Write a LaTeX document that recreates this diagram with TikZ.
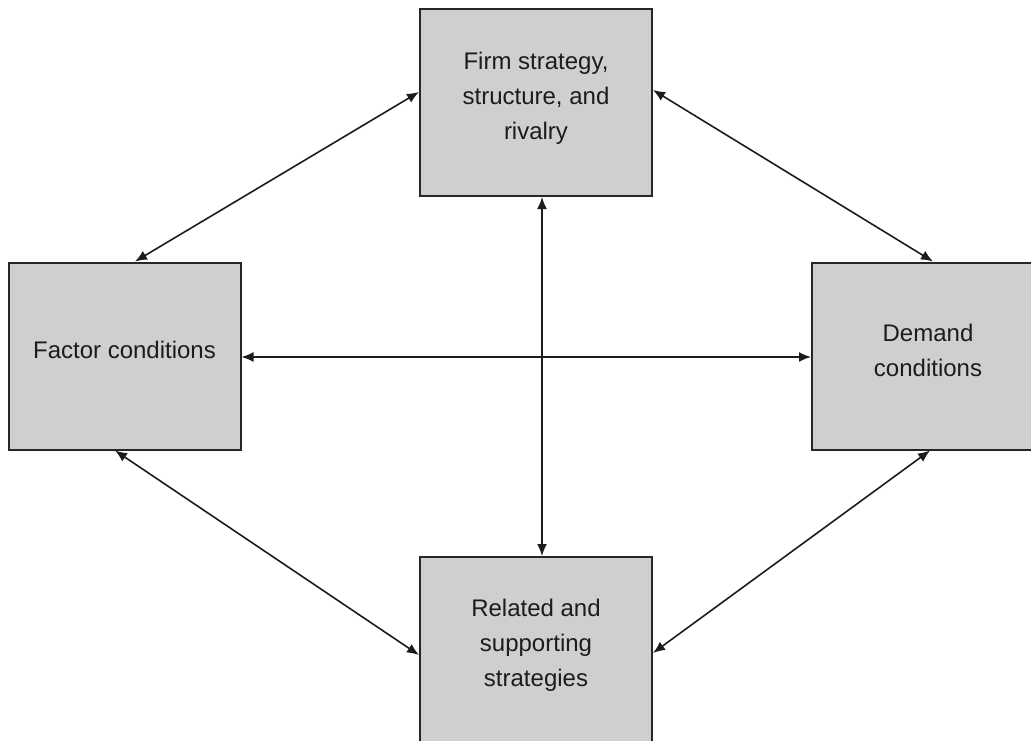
\documentclass[tikz,border=0pt]{standalone}
\usepackage{fontspec}
\setmainfont{Liberation Sans}
\usetikzlibrary{arrows.meta}
\definecolor{boxfill}{RGB}{208,206,208}
\definecolor{boxline}{RGB}{38,38,38}
\definecolor{inkcol}{RGB}{28,28,28}
\begin{document}
\begin{tikzpicture}[x=1pt,y=-1pt,
  box/.style={draw=boxline, fill=boxfill, line width=2pt, minimum width=232pt, minimum height=187pt, inner sep=0pt},
  boxtext/.style={align=center, font=\fontsize{24}{35}\selectfont, text=inkcol, inner sep=0pt},
  link/.style={draw=inkcol, line width=1.6pt, {Latex[length=12pt,width=10pt]}-{Latex[length=12pt,width=10pt]}}]
\useasboundingbox (0,0) rectangle (1031,740);
\clip (0,0) rectangle (1031,740);
% boxes
\node[box] (top) at (536,102.5) {};
\node[box] (left) at (124.5,356) {};
\node[box] (right) at (928,356) {};
\node[box] (bottom) at (536,650.5) {};
% texts
\node[boxtext] (topT) at ([yshift=4pt]top.center) {Firm strategy,\\structure, and\\rivalry};
\node[boxtext] (leftT) at ([yshift=6pt]left.center) {Factor conditions};
\node[boxtext] (rightT) at ([yshift=5.5pt]right.center) {Demand\\conditions};
\node[boxtext] (bottomT) at ([yshift=5pt]bottom.center) {Related and\\supporting\\strategies};
% connectors
\draw[link] ([xshift=10.5pt]left.north) -- ([yshift=10.5pt]top.west);
\draw[link] ([yshift=12.5pt]top.east) -- ([xshift=5pt]right.north);
\draw[link] ([xshift=-9.5pt]left.south) -- ([yshift=-4.5pt]bottom.west);
\draw[link] ([yshift=-2.5pt]bottom.east) -- ([xshift=2pt]right.south);
\draw[link] ([yshift=-1pt]left.east) -- ([yshift=-1pt]right.west);
\draw[link] ([xshift=6pt]top.south) -- ([xshift=6pt]bottom.north);
\end{tikzpicture}
\end{document}
